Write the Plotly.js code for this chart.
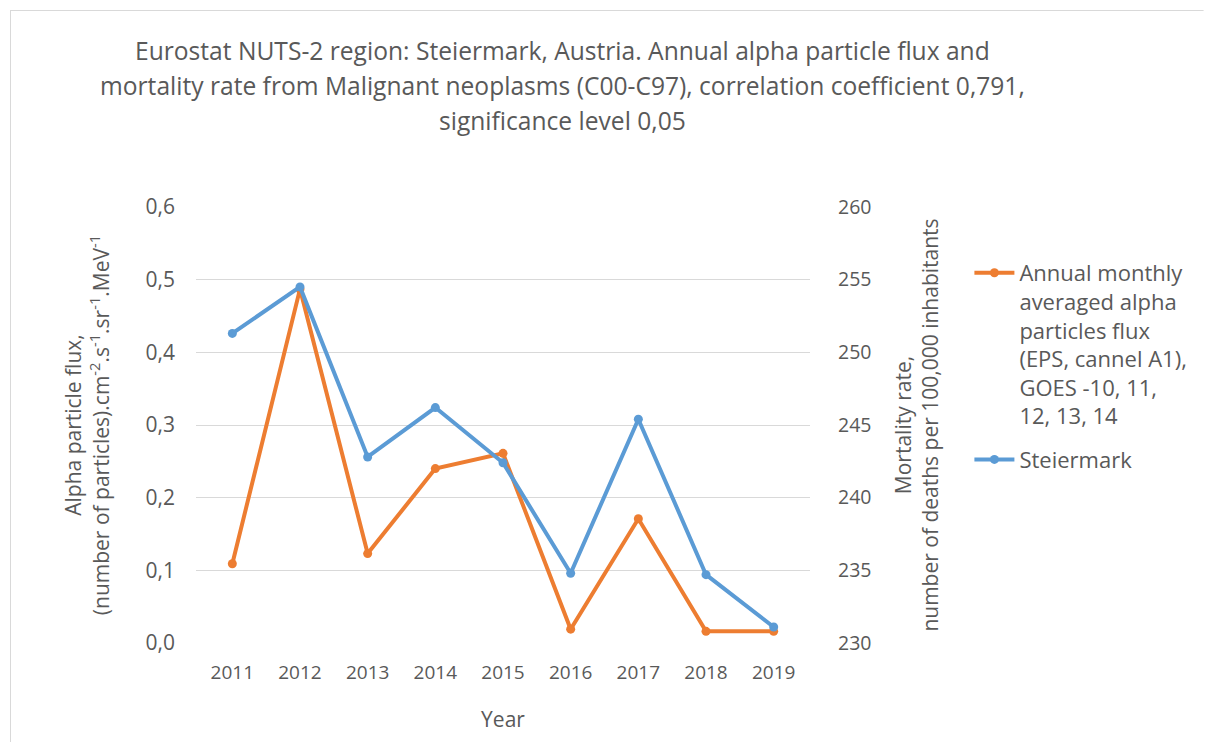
<!DOCTYPE html>
<html>
<head>
<meta charset="utf-8">
<script src="https://cdn.plot.ly/plotly-3.0.1.min.js"></script>
<style>html,body{margin:0;padding:0;background:#fff;}#chart{width:1205px;height:742px;}</style>
</head>
<body>
<div id="chart"></div>
<script>
const years = ['2011','2012','2013','2014','2015','2016','2017','2018','2019'];
const alphaFlux = [0.109, 0.487, 0.123, 0.240, 0.261, 0.019, 0.171, 0.016, 0.016];
const mortality = [251.3, 254.5, 242.8, 246.2, 242.4, 234.8, 245.4, 234.7, 231.1];
const leftTicks = [0, 0.1, 0.2, 0.3, 0.4, 0.5, 0.6];
const leftTickText = ['0,0','0,1','0,2','0,3','0,4','0,5','0,6'];
const rightTicks = [230, 235, 240, 245, 250, 255, 260];
const titleLines = [
  'Eurostat NUTS-2 region: Steiermark, Austria. Annual alpha particle flux and',
  'mortality rate from Malignant neoplasms (C00-C97), correlation coefficient 0,791,',
  'significance level 0,05'
];
const seriesNames = [
  'Annual monthly<br>averaged alpha<br>particles flux<br>(EPS, cannel A1),<br>GOES -10, 11,<br>12, 13, 14',
  'Steiermark'
];

const FONT = 'Open Sans, sans-serif';
const TXT = '#595959';

const traces = [
  {x: years, y: alphaFlux, name: seriesNames[0], legendgroup: 'a', type: 'scatter', mode: 'lines+markers',
   line: {color: '#ED7D31', width: 4}, marker: {color: '#ED7D31', size: 9}, yaxis: 'y'},
  {x: years, y: mortality, name: seriesNames[1], legendgroup: 'b', type: 'scatter', mode: 'lines+markers',
   line: {color: '#5B9BD5', width: 4}, marker: {color: '#5B9BD5', size: 9}, yaxis: 'y2'}
];

const PL = 196, PR = 820, PT = 207, PB = 643;
const W = 1205, H = 742;
function px2x(p){ return (p - PL) / (PR - PL); }
function py2y(p){ return (PB - p) / (PB - PT); }

const titleY = [50, 86, 121];
const annotations = titleLines.map((t, i) => ({
  text: t, xref: 'paper', yref: 'paper', x: px2x(568), y: py2y(titleY[i]),
  xanchor: 'center', yanchor: 'middle', showarrow: false,
  font: {family: FONT, size: 24.6, color: TXT}
}));

const layout = {
  width: W, height: H,
  margin: {l: PL, r: W - PR, t: PT, b: H - PB, pad: 0},
  paper_bgcolor: '#fff', plot_bgcolor: '#fff',
  font: {family: FONT, color: TXT},
  showlegend: true,
  legend: {x: px2x(982), y: py2y(252), xanchor: 'left', yanchor: 'top',
    font: {family: FONT, size: 22, color: TXT}, itemwidth: 40, valign: 'top',
    tracegroupgap: 12, bgcolor: 'rgba(0,0,0,0)'},
  xaxis: {type: 'category', showgrid: false, zeroline: false, showline: false, ticks: '',
    ticklabelstandoff: 16,
    tickfont: {family: FONT, size: 19, color: TXT},
    title: {text: 'Year', font: {family: FONT, size: 21, color: TXT}, standoff: 28},
    automargin: false},
  yaxis: {range: [0, 0.6], tickvals: leftTicks, ticktext: leftTickText,
    showgrid: true, gridcolor: '#d9d9d9', gridwidth: 1, zeroline: false, showline: false, ticks: '',
    ticklabelstandoff: 20,
    tickfont: {family: FONT, size: 21, color: TXT},
    title: {text: 'Alpha particle flux,<br>(number of particles).cm<sup>-2</sup>.s<sup>-1</sup>.sr<sup>-1</sup>.MeV<sup>-1</sup>',
      font: {family: FONT, size: 21, color: TXT}, standoff: 30},
    automargin: false},
  yaxis2: {range: [230, 260], tickvals: rightTicks, overlaying: 'y', side: 'right',
    showgrid: false, zeroline: false, showline: false, ticks: '',
    ticklabelstandoff: 27,
    tickfont: {family: FONT, size: 19.5, color: TXT},
    title: {text: 'Mortality rate,<br>number of deaths per 100,000 inhabitants',
      font: {family: FONT, size: 21, color: TXT}, standoff: 25},
    automargin: false},
  annotations: annotations,
  shapes: [
    {type: 'line', xref: 'paper', yref: 'paper', x0: px2x(7.5), x1: px2x(7.5), y0: py2y(10), y1: py2y(760),
     line: {color: '#d9d9d9', width: 1}},
    {type: 'line', xref: 'paper', yref: 'paper', x0: px2x(7.5), x1: px2x(1220), y0: py2y(10.5), y1: py2y(10.5),
     line: {color: '#d9d9d9', width: 1}}
  ]
};

Plotly.newPlot('chart', traces, layout, {displayModeBar: false, staticPlot: true});
</script>
</body>
</html>
